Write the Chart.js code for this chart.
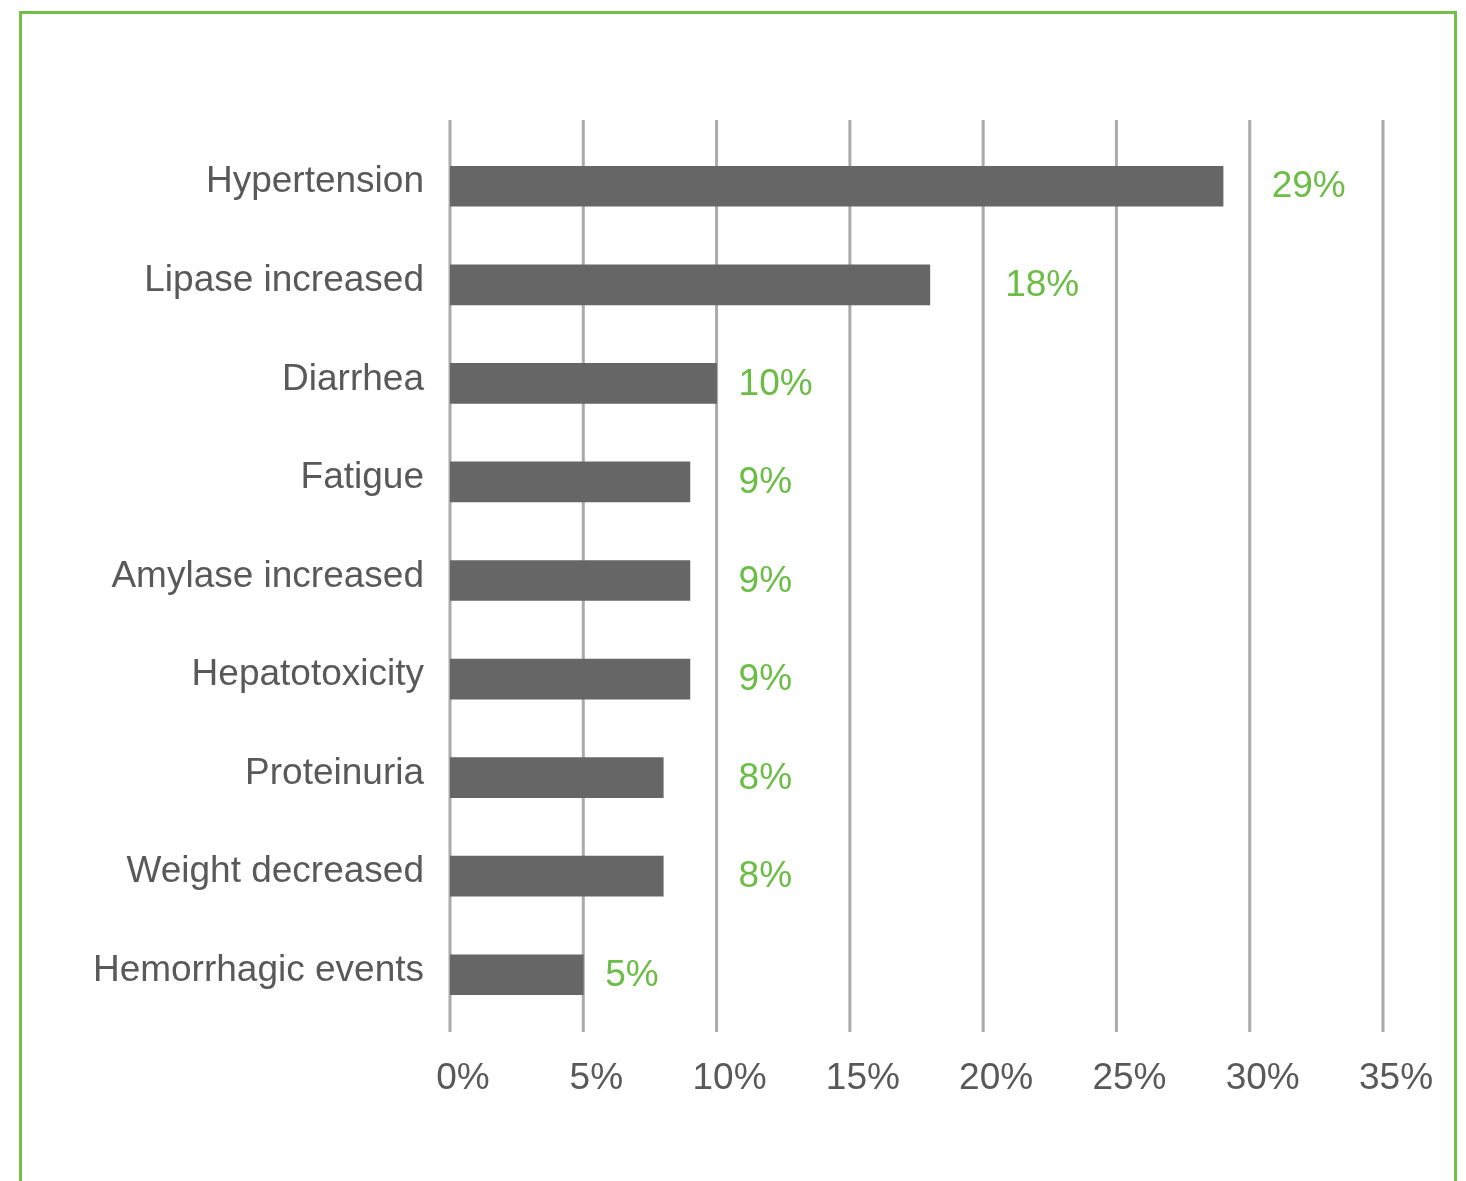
<!DOCTYPE html>
<html>
<head>
<meta charset="utf-8">
<title>Adverse events</title>
<script src="https://cdn.jsdelivr.net/npm/chart.js@4"></script>
<style>
    body { margin: 0; background: #fff; overflow: hidden; }
    #frame {
        position: absolute;
        left: 19px;
        top: 11px;
        width: 1438px;
        height: 1200px;
        box-sizing: border-box;
        border: 3px solid #72bf4a;
        border-bottom: none;
    }
    #chart { position: absolute; left: 0; top: 0; }
</style>
</head>
<body>
<div id="frame"></div>
<canvas id="chart" width="1466" height="1181"></canvas>
<script>
const events = [
    'Hypertension',
    'Lipase increased',
    'Diarrhea',
    'Fatigue',
    'Amylase increased',
    'Hepatotoxicity',
    'Proteinuria',
    'Weight decreased',
    'Hemorrhagic events'
];
const incidence = [29, 18, 10, 9, 9, 9, 8, 8, 5];
const xTicks = [0, 5, 10, 15, 20, 25, 30, 35];

const textColor = '#595959';
const green = '#6bbd45';
const fontFamily = '"Liberation Sans", Arial, Helvetica, sans-serif';

// vertical grid lines, running a little past the plot area at top and bottom
const gridLines = {
    id: 'gridLines',
    beforeDatasetsDraw(chart) {
        const { ctx, chartArea, scales } = chart;
        ctx.save();
        ctx.strokeStyle = '#aaaaaa';
        ctx.lineWidth = 3;
        xTicks.forEach(t => {
            const x = scales.x.getPixelForValue(t);
            ctx.beginPath();
            ctx.moveTo(x, chartArea.top - 17);
            ctx.lineTo(x, chartArea.bottom + 8);
            ctx.stroke();
        });
        ctx.restore();
    }
};

// green percentage for each bar, set just past the next grid line so it
// sits in the clear gap between lines
const valueLabels = {
    id: 'valueLabels',
    afterDatasetsDraw(chart) {
        const { ctx, scales } = chart;
        const meta = chart.getDatasetMeta(0);
        ctx.save();
        ctx.fillStyle = green;
        ctx.font = '37px ' + fontFamily;
        ctx.textAlign = 'left';
        ctx.textBaseline = 'middle';
        meta.data.forEach((bar, i) => {
            const nextLine = Math.ceil(incidence[i] / 5) * 5;
            const x = scales.x.getPixelForValue(nextLine) + 22;
            ctx.fillText(incidence[i] + '%', x, bar.y + 1);
        });
        ctx.restore();
    }
};

new Chart(document.getElementById('chart'), {
    type: 'bar',
    data: {
        labels: events,
        datasets: [{
            data: incidence,
            backgroundColor: '#666666',
            barThickness: 40
        }]
    },
    options: {
        indexAxis: 'y',
        responsive: false,
        animation: false,
        layout: { padding: { top: 137, right: 83, bottom: 0, left: 0 } },
        plugins: {
            legend: { display: false },
            tooltip: { enabled: false }
        },
        scales: {
            x: {
                min: 0,
                max: 35,
                grid: { display: false },
                border: { display: false },
                afterFit(scale) { scale.height = 157; },
                afterBuildTicks(scale) {
                    scale.ticks = xTicks.map(v => ({ value: v }));
                },
                ticks: {
                    callback: v => v + '%',
                    color: textColor,
                    font: { family: fontFamily, size: 37 },
                    padding: 25,
                    labelOffset: 13,
                    maxRotation: 0
                }
            },
            y: {
                grid: { display: false, drawTicks: false },
                border: { display: false },
                afterFit(scale) { scale.width = 450; },
                ticks: {
                    color: textColor,
                    font: { family: fontFamily, size: 37 },
                    padding: 26,
                    labelOffset: -4
                }
            }
        }
    },
    plugins: [gridLines, valueLabels]
});
</script>
</body>
</html>
